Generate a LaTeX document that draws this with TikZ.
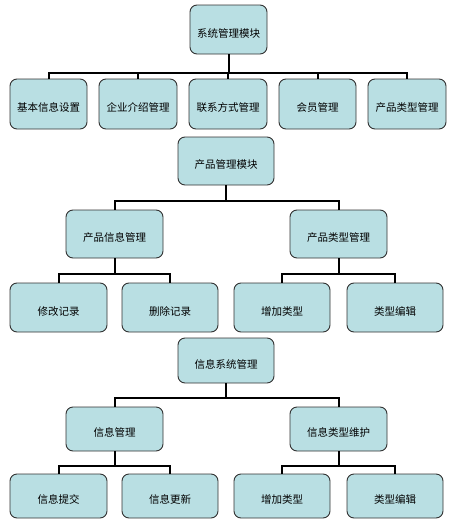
\documentclass[tikz,border=0pt]{standalone}
\usepackage{fontspec}
\setmainfont{Noto Sans CJK SC}
\usetikzlibrary{calc}
\definecolor{boxfill}{RGB}{185,223,227}
\definecolor{boxline}{RGB}{50,50,50}
\tikzset{
  box/.style={draw=boxline, line width=0.9pt, fill=boxfill, rounded corners=7pt,
    inner sep=0pt, text height=15pt, text depth=0pt, font=\fontsize{10.5pt}{12pt}\selectfont},
  conn/.style={draw=black, line width=2pt},
}
\begin{document}
\begin{tikzpicture}[x=1pt,y=-1pt]
\useasboundingbox (0,0) rectangle (462,525);
% ---------- top section ----------
\node[box, minimum width=77pt, minimum height=49pt] (r1) at (228.5,29.5) {系统管理模块};
\node[box, minimum width=77pt, minimum height=50pt] (r1a) at (48.5,104) {基本信息设置};
\node[box, minimum width=78pt, minimum height=50pt] (r1b) at (138,104) {企业介绍管理};
\node[box, minimum width=78pt, minimum height=50pt] (r1c) at (228,104) {联系方式管理};
\node[box, minimum width=77pt, minimum height=50pt] (r1d) at (317.5,104) {会员管理};
\node[box, minimum width=78pt, minimum height=50pt] (r1e) at (407,104) {产品类型管理};
\coordinate (b1) at (0,73);
\draw[conn] (r1.south) -- (r1.south |- b1);
\foreach \c in {r1a,r1b,r1c,r1d,r1e} \draw[conn] (r1.south |- b1) -| (\c.north);
% ---------- middle section ----------
\node[box, minimum width=96pt, minimum height=48pt] (r2) at (226,161) {产品管理模块};
\node[box, minimum width=97pt, minimum height=48pt] (m2a) at (114.5,234) {产品信息管理};
\node[box, minimum width=97pt, minimum height=48pt] (m2b) at (338.5,234) {产品类型管理};
\node[box, minimum width=97pt, minimum height=49pt] (l2a) at (58.5,307.5) {修改记录};
\node[box, minimum width=96pt, minimum height=49pt] (l2b) at (170,307.5) {删除记录};
\node[box, minimum width=96pt, minimum height=49pt] (l2c) at (282,307.5) {增加类型};
\node[box, minimum width=96pt, minimum height=49pt] (l2d) at (395,307.5) {类型编辑};
\coordinate (b2) at (0,201);
\coordinate (s2) at (0,274);
\draw[conn] (r2.south) -- (r2.south |- b2);
\foreach \c in {m2a,m2b} \draw[conn] (r2.south |- b2) -| (\c.north);
\draw[conn] (m2a.south) -- (m2a.south |- s2);
\foreach \c in {l2a,l2b} \draw[conn] (m2a.south |- s2) -| (\c.north);
\draw[conn] (m2b.south) -- (m2b.south |- s2);
\foreach \c in {l2c,l2d} \draw[conn] (m2b.south |- s2) -| (\c.north);
% ---------- bottom section ----------
\node[box, minimum width=96pt, minimum height=45pt] (r3) at (226,360.5) {信息系统管理};
\node[box, minimum width=97pt, minimum height=44pt] (m3a) at (114.5,429) {信息管理};
\node[box, minimum width=97pt, minimum height=44pt] (m3b) at (338.5,429) {信息类型维护};
\node[box, minimum width=97pt, minimum height=44pt] (l3a) at (58.5,496) {信息提交};
\node[box, minimum width=96pt, minimum height=44pt] (l3b) at (170,496) {信息更新};
\node[box, minimum width=96pt, minimum height=44pt] (l3c) at (282,496) {增加类型};
\node[box, minimum width=96pt, minimum height=44pt] (l3d) at (395,496) {类型编辑};
\coordinate (b3) at (0,398);
\coordinate (s3) at (0,466);
\draw[conn] (r3.south) -- (r3.south |- b3);
\foreach \c in {m3a,m3b} \draw[conn] (r3.south |- b3) -| (\c.north);
\draw[conn] (m3a.south) -- (m3a.south |- s3);
\foreach \c in {l3a,l3b} \draw[conn] (m3a.south |- s3) -| (\c.north);
\draw[conn] (m3b.south) -- (m3b.south |- s3);
\foreach \c in {l3c,l3d} \draw[conn] (m3b.south |- s3) -| (\c.north);
\end{tikzpicture}
\end{document}
